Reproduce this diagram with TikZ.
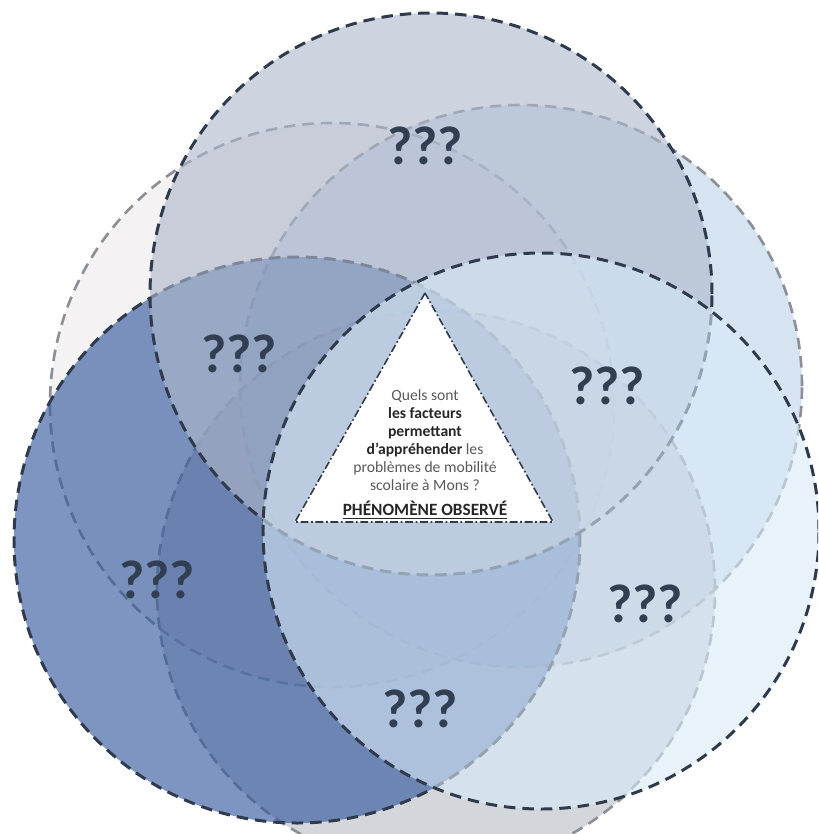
\documentclass[tikz,border=0pt]{standalone}
\usepackage{fontspec}
\setmainfont{Carlito}
\usepackage{tikz}
\definecolor{LineDark}{RGB}{47,58,76}
\definecolor{LineGrey}{RGB}{140,144,150}
\definecolor{QText}  {RGB}{50,62,82}
\definecolor{TxtGrey}{RGB}{89,89,89}
\definecolor{TxtDark}{RGB}{38,38,38}
\definecolor{FillUL} {RGB}{233,229,231}
\definecolor{FillUR} {RGB}{173,201,227}
\definecolor{FillBot}{RGB}{167,173,183}
\definecolor{FillL}  {RGB}{50,87,157}
\definecolor{FillT}  {RGB}{174,183,203}
\definecolor{FillR}  {RGB}{216,233,247}
\tikzset{
  disc_back/.style={draw=LineGrey,line width=1.5pt,dash pattern=on 6.5pt off 4pt},
  disc_front/.style={draw=LineDark,line width=1.7pt,dash pattern=on 6.5pt off 4pt},
  qmark/.style={font=\fontsize{31}{32}\selectfont\bfseries,text=QText,inner sep=0pt},
  tri/.style={draw=LineDark,fill=white,line width=0.9pt,dash pattern=on 4.5pt off 1.5pt on 1pt off 1.5pt},
  qtxt/.style={font=\fontsize{8.9}{10.2}\selectfont,text=TxtGrey,align=center,inner sep=0pt},
}

\begin{document}
\begin{tikzpicture}[x=1cm,y=1cm]
\clip (0,0) rectangle (16.36,-16.68);
% back circles
\fill[FillUL,fill opacity=0.5] (6.64,-8.10) circle (5.64);
\draw[disc_back] (6.64,-8.10) circle (5.64);
\fill[FillUR,fill opacity=0.5] (10.42,-7.72) circle (5.62);
\draw[disc_back] (10.42,-7.72) circle (5.62);
\fill[FillBot,fill opacity=0.5] (8.72,-11.80) circle (5.58);
\draw[disc_back] (8.72,-11.80) circle (5.58);
% front circles
\fill[FillL,fill opacity=0.63] (5.94,-10.80) circle (5.66);
\draw[disc_front] (5.94,-10.80) circle (5.66);
\fill[FillT,fill opacity=0.615] (8.62,-5.88) circle (5.62);
\draw[disc_front] (8.62,-5.88) circle (5.62);
\fill[FillR,fill opacity=0.6] (10.82,-10.62) circle (5.56);
\draw[disc_front] (10.82,-10.62) circle (5.56);
% observed phenomenon
\draw[tri] (8.5,-5.86) -- (5.9,-10.44) -- (11.06,-10.44) -- cycle;
\node[qtxt] (ask) at (8.5,-8.80) {Quels sont\\
  \textcolor{TxtDark}{\bfseries les facteurs}\\
  \textcolor{TxtDark}{\bfseries permettant}\\
  \textcolor{TxtDark}{\bfseries d’appréhender} les\\
  problèmes de mobilité\\
  scolaire à Mons ?};
\node[qtxt,text=TxtDark,font=\fontsize{9.8}{10}\selectfont\bfseries] (obs) at (8.5,-10.20) {\underline{PHÉNOMÈNE OBSERVÉ}};
% unknowns
\node[qmark] (qT)  at (8.50,-2.92)  {???};
\node[qmark] (qUL) at (4.78,-7.08)  {???};
\node[qmark] (qUR) at (12.14,-7.72) {???};
\node[qmark] (qL)  at (3.14,-11.60) {???};
\node[qmark] (qR)  at (12.90,-12.08) {???};
\node[qmark] (qB)  at (8.40,-14.18) {???};
\end{tikzpicture}
\end{document}
